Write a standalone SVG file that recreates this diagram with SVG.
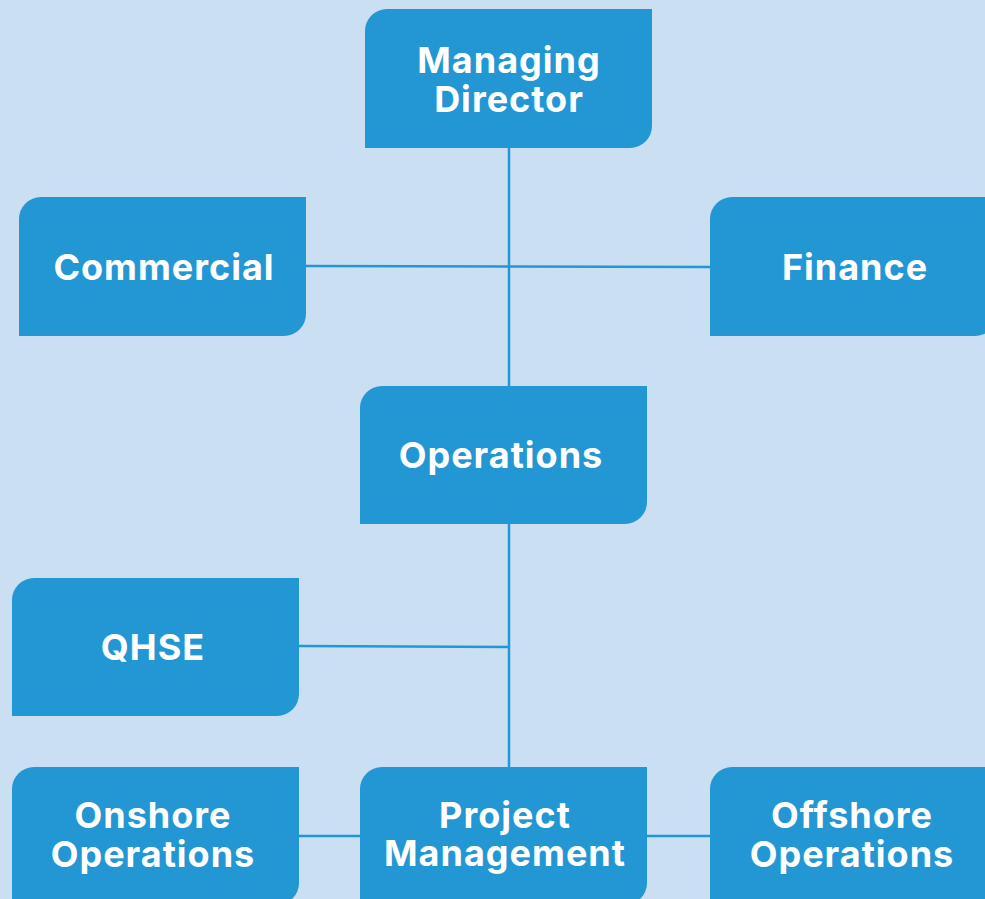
<svg xmlns="http://www.w3.org/2000/svg" width="985" height="899" viewBox="0 0 985 899">
<defs>
<style>
.bg{fill:#cbdff3}
.box{fill:#2397d3}
.lbl{font-family:Inter,"Open Sans","Liberation Sans",sans-serif;font-weight:700;font-size:36px;letter-spacing:1px;fill:#ffffff;text-anchor:middle}
.conn line{stroke:#2397d3;stroke-width:2.5}
</style>
</defs>
<rect class="bg" x="0" y="0" width="985" height="899"/>
<g class="conn" id="connectors">
<line x1="509" y1="148" x2="509" y2="386"/>
<line x1="306" y1="266" x2="710" y2="267"/>
<line x1="509" y1="524" x2="509" y2="767"/>
<line x1="299" y1="646" x2="509" y2="647"/>
<line x1="299" y1="836" x2="360" y2="836"/>
<line x1="647" y1="836" x2="710" y2="836"/>
</g>
<g id="managing-director">
<path class="box" d="M387 9H652V126A22 22 0 0 1 630 148H365V31A22 22 0 0 1 387 9Z"/>
<text class="lbl" x="509" y="73">Managing</text>
<text class="lbl" x="509" y="112">Director</text>
</g>
<g id="commercial">
<path class="box" d="M41 197H306V314A22 22 0 0 1 284 336H19V219A22 22 0 0 1 41 197Z"/>
<text class="lbl" x="164" y="280">Commercial</text>
</g>
<g id="finance">
<path class="box" d="M732 197H997V314A22 22 0 0 1 975 336H710V219A22 22 0 0 1 732 197Z"/>
<text class="lbl" x="855" y="280">Finance</text>
</g>
<g id="operations">
<path class="box" d="M382 386H647V502A22 22 0 0 1 625 524H360V408A22 22 0 0 1 382 386Z"/>
<text class="lbl" x="501" y="468">Operations</text>
</g>
<g id="qhse">
<path class="box" d="M34 578H299V694A22 22 0 0 1 277 716H12V600A22 22 0 0 1 34 578Z"/>
<text class="lbl" x="153" y="660">QHSE</text>
</g>
<g id="onshore-operations">
<path class="box" d="M34 767H299V883A22 22 0 0 1 277 905H12V789A22 22 0 0 1 34 767Z"/>
<text class="lbl" x="153" y="828">Onshore</text>
<text class="lbl" x="153" y="867">Operations</text>
</g>
<g id="project-management">
<path class="box" d="M382 767H647V883A22 22 0 0 1 625 905H360V789A22 22 0 0 1 382 767Z"/>
<text class="lbl" x="505" y="828">Project</text>
<text class="lbl" x="505" y="866">Management</text>
</g>
<g id="offshore-operations">
<path class="box" d="M732 767H997V883A22 22 0 0 1 975 905H710V789A22 22 0 0 1 732 767Z"/>
<text class="lbl" x="852" y="828">Offshore</text>
<text class="lbl" x="852" y="867">Operations</text>
</g>
</svg>
